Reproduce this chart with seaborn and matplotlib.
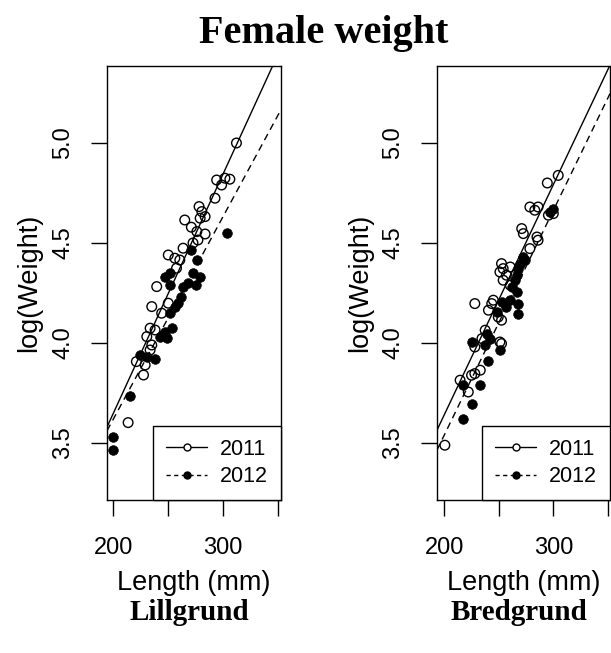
import numpy as np
import pandas as pd
import seaborn as sns
import matplotlib.pyplot as plt
from matplotlib.lines import Line2D

# --- values ---

# Lillgrund
lill_2011_len = [312, 294, 301.5, 306, 298.5, 292.5, 278, 280.5, 283.5, 279,
                 265, 271, 276, 283.5, 277, 272.5, 263.5, 250, 256, 260.5,
                 257.5, 239.5, 235, 244, 250, 233.5, 238, 230.5, 235, 233.5,
                 221, 229, 227.5, 213.5]
lill_2011_logw = [5.00, 4.815, 4.824, 4.819, 4.79, 4.724, 4.682, 4.657, 4.632, 4.624,
                  4.615, 4.579, 4.557, 4.545, 4.515, 4.50, 4.474, 4.44, 4.424, 4.415,
                  4.374, 4.282, 4.182, 4.149, 4.199, 4.074, 4.065, 4.032, 3.99, 3.965,
                  3.907, 3.89, 3.84, 3.602]
lill_2012_len = [303, 271, 276, 279, 272.5, 268, 263.5, 251.5, 247, 262,
                 259, 256, 251.5, 253, 247, 242.5, 248.5, 224.5, 230.5, 238,
                 215, 199.5, 200, 252, 275]
lill_2012_logw = [4.552, 4.465, 4.415, 4.332, 4.349, 4.30, 4.282, 4.349, 4.332, 4.232,
                  4.199, 4.182, 4.149, 4.074, 4.057, 4.032, 4.024, 3.94, 3.932, 3.919,
                  3.735, 3.529, 3.465, 4.29, 4.29]

# Bredgrund
bred_2011_len = [304.5, 294.5, 278.5, 283, 286, 295.5, 300, 271, 272.5, 285,
                 286, 278.5, 252.5, 254, 251, 260.5, 257, 254, 260.5, 228,
                 245, 243.5, 240.5, 249.5, 252.5, 237.5, 234.5, 251, 252.5, 228,
                 233, 228, 225, 214.5, 222, 200.5]
bred_2011_logw = [4.838, 4.80, 4.68, 4.664, 4.68, 4.639, 4.647, 4.572, 4.547, 4.53,
                  4.514, 4.472, 4.397, 4.372, 4.355, 4.38, 4.339, 4.314, 4.289, 4.197,
                  4.214, 4.197, 4.164, 4.13, 4.114, 4.064, 4.022, 4.005, 3.997, 3.98,
                  3.864, 3.847, 3.839, 3.814, 3.755, 3.489]
bred_2012_len = [300, 297, 272.5, 274, 269.5, 268, 266.5, 265, 262, 266.5,
                 268, 257, 248, 252.5, 260.5, 268, 239, 242, 237.5, 225,
                 251, 240.5, 217.5, 233, 225, 217.5]
bred_2012_logw = [4.672, 4.655, 4.43, 4.414, 4.397, 4.372, 4.339, 4.314, 4.28, 4.255,
                  4.197, 4.18, 4.155, 4.205, 4.214, 4.147, 4.047, 4.022, 3.989, 4.005,
                  3.964, 3.91, 3.789, 3.789, 3.697, 3.622]

# fitted lines: log(Weight) = intercept + slope * Length
lill_fit_2011 = [1.250, 0.01199]
lill_fit_2012 = [1.589, 0.01015]
bred_fit_2011 = [1.3415, 0.0115]
bred_fit_2012 = [1.294, 0.01123]

years = ["2011", "2012"]
sites = ["Lillgrund", "Bredgrund"]
x_ticks = [200, 250, 300, 350]
x_ticklabels = ["200", "", "300", ""]
y_ticks = [3.5, 4.0, 4.5, 5.0]
y_ticklabels = ["3.5", "4.0", "4.5", "5.0"]


def make_df(len11, w11, len12, w12):
    d1 = pd.DataFrame({"length": len11, "logw": w11, "year": years[0]})
    d2 = pd.DataFrame({"length": len12, "logw": w12, "year": years[1]})
    return pd.concat([d1, d2], ignore_index=True)


sns.set_theme(style="white")
plt.rcParams["font.family"] = ["Liberation Sans", "DejaVu Sans"]
plt.rcParams["text.color"] = "black"
plt.rcParams["axes.labelcolor"] = "black"
plt.rcParams["xtick.color"] = "black"
plt.rcParams["ytick.color"] = "black"

W, H = 611, 653
fig = plt.figure(figsize=(W / 100, H / 100), dpi=100)

panels = [
    (make_df(lill_2011_len, lill_2011_logw, lill_2012_len, lill_2012_logw),
     lill_fit_2011, lill_fit_2012, (194.3, 352.5), 107, 174),
    (make_df(bred_2011_len, bred_2011_logw, bred_2012_len, bred_2012_logw),
     bred_fit_2011, bred_fit_2012, (193.3, 352.0), 437, 173),
]

for (df, fit11, fit12, xlim, left_px, width_px), site in zip(panels, sites):
    ax = fig.add_axes([left_px / W, 1 - 500 / H, width_px / W, 434 / H])
    ax.set_xlim(*xlim)
    ax.set_ylim(3.215, 5.385)

    xs = np.linspace(xlim[0], xlim[1], 50)
    ax.plot(xs, fit11[0] + fit11[1] * xs, color="black", lw=1)
    ax.plot(xs, fit12[0] + fit12[1] * xs, color="black", lw=1, dashes=(5, 3.5))

    d11 = df[df["year"] == "2011"]
    d12 = df[df["year"] == "2012"]
    sns.scatterplot(data=d11, x="length", y="logw", ax=ax, color="black",
                    s=48, edgecolor="black", linewidth=1, zorder=3)
    ax.collections[-1].set_facecolor("none")
    sns.scatterplot(data=d12, x="length", y="logw", ax=ax, color="black",
                    s=48, edgecolor="black", linewidth=0.5, zorder=4)

    ax.set_xticks(x_ticks)
    ax.set_xticklabels(x_ticklabels)
    ax.set_yticks(y_ticks)
    ax.set_yticklabels(y_ticklabels, rotation=90, va="center")
    ax.tick_params(axis="both", direction="out", length=11.5, width=1,
                   color="black", labelsize=17, labelcolor="black",
                   bottom=True, left=True)
    ax.tick_params(axis="x", pad=15)
    ax.tick_params(axis="y", pad=12)
    for sp in ax.spines.values():
        sp.set_color("black")
        sp.set_linewidth(1)

    ax.set_xlabel("Length (mm)", fontsize=19.5, color="black")
    ax.xaxis.set_label_coords(0.5, -0.162)
    ax.set_ylabel("log(Weight)", fontsize=19.5, color="black")
    ax.yaxis.set_label_coords(-0.37, 0.5)

    handles = [
        Line2D([], [], color="black", lw=1, marker="o", markersize=5,
               markerfacecolor="white", markeredgecolor="black"),
        Line2D([], [], color="black", lw=1, dashes=(3, 2.5), marker="o",
               markersize=5, markerfacecolor="black", markeredgecolor="black"),
    ]
    leg = ax.legend(handles, years, loc="lower right", borderaxespad=0,
                    fontsize=15.5, frameon=True, fancybox=False,
                    handlelength=1.9, handletextpad=0.6, borderpad=0.6,
                    labelspacing=0.3)
    for t in leg.get_texts():
        t.set_color("black")
    leg.get_frame().set_edgecolor("black")
    leg.get_frame().set_linewidth(1)
    leg.get_frame().set_alpha(1)

    cx = (left_px + width_px / 2) / W
    fig.text(cx - 5 / W, 1 - 620 / H, site, ha="center", va="baseline",
             fontsize=21, fontweight="bold", color="black",
             family=["Liberation Serif", "DejaVu Serif"])

fig.text(324 / W, 1 - 43 / H, "Female weight", ha="center", va="baseline",
         fontsize=29, fontweight="bold", color="black",
         family=["Liberation Serif", "DejaVu Serif"])

fig.savefig("out.png", dpi=100)
